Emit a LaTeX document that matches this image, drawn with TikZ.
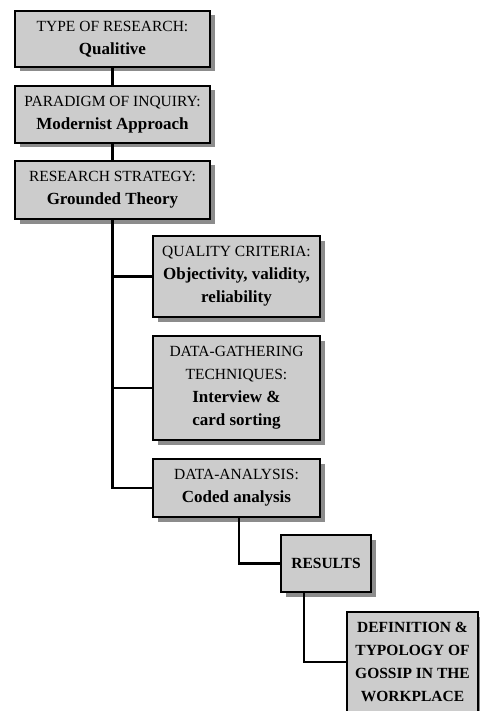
\documentclass[tikz,border=0pt]{standalone}
\usepackage{fontspec}
\setmainfont{Liberation Serif}
\usepackage{tikz}
\usetikzlibrary{shadows}
\newcommand{\keyword}[1]{{\fontsize{17}{23}\selectfont\bfseries #1}}
\newcommand{\keycaps}[1]{{\fontsize{15.5}{23}\selectfont\bfseries #1}}

\begin{document}
\begin{tikzpicture}[%
        x=1pt, y=-1pt,
        box/.style={rectangle, draw=black, line width=2pt, fill=black!20,
            align=center, inner sep=0pt,
            font=\fontsize{15.5}{23}\selectfont,
            drop shadow={shadow xshift=4.5pt, shadow yshift=-4.5pt,
                fill=black!45, opacity=1}},
        link/.style={draw=black, line width=2.4pt}
        ]
        \useasboundingbox (0,0) rectangle (479,711);
        % left column
        \node[box, minimum width=195pt, minimum height=56pt] (type) at (112.5,39)
            {TYPE OF RESEARCH:\\\keyword{Qualitive}};
        \node[box, minimum width=195pt, minimum height=57pt] (paradigm) at (112.5,114.5)
            {PARADIGM OF INQUIRY:\\\keyword{Modernist Approach}};
        \node[box, minimum width=195pt, minimum height=58pt] (strategy) at (112.5,190)
            {RESEARCH STRATEGY:\\\keyword{Grounded Theory}};
        % branches of the strategy
        \node[box, minimum width=167pt, minimum height=81pt] (quality) at (236.5,276.5)
            {QUALITY CRITERIA:\\\keyword{Objectivity, validity,}\\\keyword{reliability}};
        \node[box, minimum width=167pt, minimum height=104pt] (gathering) at (236.5,388)
            {DATA-GATHERING\\TECHNIQUES:\\\keyword{Interview \&}\\\keyword{card sorting}};
        \node[box, minimum width=167pt, minimum height=58pt] (analysis) at (236.5,488)
            {DATA-ANALYSIS:\\\keyword{Coded analysis}};
        % outcome
        \node[box, minimum width=90pt, minimum height=57pt] (results) at (326,563.5)
            {\keycaps{RESULTS}};
        \node[box, minimum width=131pt, minimum height=100pt] (gossip) at (412.5,662)
            {\keycaps{DEFINITION \&}\\\keycaps{TYPOLOGY OF}\\\keycaps{GOSSIP IN THE}\\\keycaps{WORKPLACE}};

        \draw[link] (type.south) -- (paradigm.north);
        \draw[link] (paradigm.south) -- (strategy.north);
        \draw[link] (strategy.south) |- (quality.west);
        \draw[link] (strategy.south) |- (gathering.west);
        \draw[link] (strategy.south) |- (analysis.west);
        \draw[link] ([xshift=2.5pt]analysis.south) |- (results.west);
        \draw[link] ([xshift=-22pt]results.south) |- (gossip.west);
    \end{tikzpicture}
\end{document}
